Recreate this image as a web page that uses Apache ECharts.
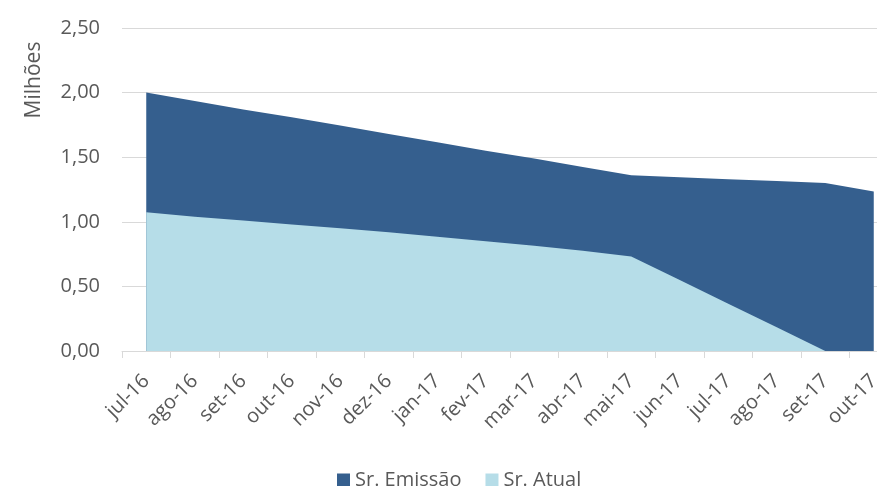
<!DOCTYPE html>
<html><head><meta charset="utf-8">
<script src="https://cdn.jsdelivr.net/npm/echarts@6/dist/echarts.min.js"></script>
<style>html,body{margin:0;padding:0;background:#fff;overflow:hidden;width:877px;height:486px}#c{width:898px;height:486px}</style>
</head><body><div id="c"></div>
<script>
const categories = ['jul-16','ago-16','set-16','out-16','nov-16','dez-16','jan-17','fev-17','mar-17','abr-17','mai-17','jun-17','jul-17','ago-17','set-17','out-17'];
const emissao = [2.00, 1.935, 1.87, 1.81, 1.745, 1.68, 1.615, 1.55, 1.49, 1.425, 1.36, 1.345, 1.33, 1.315, 1.30, 1.235];
const atual = [1.073, 1.04, 1.01, 0.98, 0.95, 0.92, 0.885, 0.85, 0.815, 0.775, 0.732, 0.549, 0.366, 0.183, 0, 0];
const yTicks = ['0,00','0,50','1,00','1,50','2,00','2,50'];

const chart = echarts.init(document.getElementById('c'));
const font = '"Open Sans", "Noto Sans", sans-serif';
chart.setOption({
  animation: false,
  textStyle: {fontFamily: font},
  grid: {left: 122, top: 28, right: 0, bottom: 135, containLabel: false},
  legend: {
    top: 465, left: 332,
    itemWidth: 13, itemHeight: 13, itemGap: 24,
    icon: 'rect',
    textStyle: {fontSize: 20, color: '#595959', fontFamily: font},
    data: ['Sr. Emissão', 'Sr. Atual']
  },
  graphic: [{
    type: 'text', x: 34, y: 80, rotation: Math.PI / 2,
    style: {text: 'Milhões', fontSize: 21, fill: '#595959', fontFamily: font, align: 'center', verticalAlign: 'middle'}
  }],
  xAxis: {
    type: 'category', data: categories, boundaryGap: true,
    axisLine: {lineStyle: {color: '#D9D9D9', width: 1}},
    axisTick: {show: true, length: 7, lineStyle: {color: '#D9D9D9'}},
    axisLabel: {rotate: 45, fontSize: 20, color: '#595959', margin: 27, interval: 0, fontFamily: font},
    splitLine: {show: false}
  },
  yAxis: {
    type: 'value', min: 0, max: 2.5, interval: 0.5,
    axisLine: {show: false}, axisTick: {show: false},
    axisLabel: {fontSize: 20, color: '#595959', margin: 22, fontFamily: font,
      formatter: v => yTicks[Math.round(v / 0.5)]},
    splitLine: {lineStyle: {color: '#D9D9D9', width: 1}}
  },
  series: [
    {name: 'Sr. Emissão', type: 'line', data: emissao, symbol: 'none', lineStyle: {width: 0},
      itemStyle: {color: '#355F8E'}, areaStyle: {color: '#355F8E', opacity: 1}, z: 2},
    {name: 'Sr. Atual', type: 'line', data: atual, symbol: 'none', lineStyle: {width: 0},
      itemStyle: {color: '#B6DDE8'}, areaStyle: {color: '#B6DDE8', opacity: 1}, z: 3}
  ]
});
</script></body></html>
